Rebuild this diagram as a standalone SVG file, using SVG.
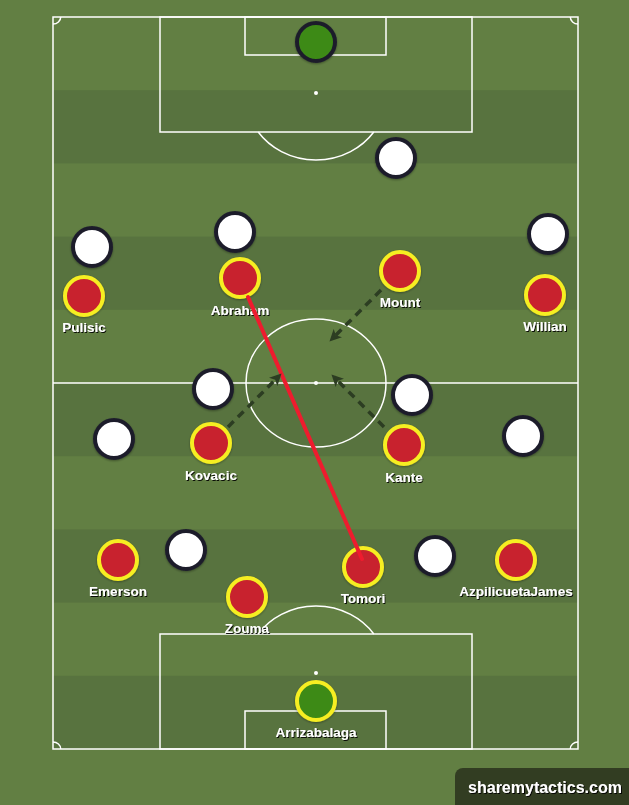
<svg xmlns="http://www.w3.org/2000/svg" width="629" height="805" viewBox="0 0 629 805">
<defs>
<filter id="ts" x="-10%" y="-30%" width="130%" height="170%">
<feDropShadow dx="1" dy="1" stdDeviation="0.4" flood-color="#000" flood-opacity="0.9"/>
</filter>
<filter id="cs" x="-30%" y="-30%" width="160%" height="160%">
<feDropShadow dx="0" dy="1" stdDeviation="1" flood-color="#000" flood-opacity="0.35"/>
</filter>
<marker id="ah" viewBox="0 0 10 10" refX="7" refY="5" markerWidth="3.4" markerHeight="3.4" orient="auto" markerUnits="strokeWidth">
<path d="M0,0 L10,5 L0,10 L2.5,5 z" fill="#2c3d22"/>
</marker>
</defs>
<style>
.ln{fill:none;stroke:#ffffff;stroke-width:1.5}
.red{fill:#c8232d;stroke:#f6ee22;stroke-width:4;filter:url(#cs)}
.wht{fill:#ffffff;stroke:#1d1d2b;stroke-width:4;filter:url(#cs)}
.gk1{fill:#3c8a16;stroke:#1d1d2b;stroke-width:4;filter:url(#cs)}
.gk2{fill:#3c8a16;stroke:#f6ee22;stroke-width:4;filter:url(#cs)}
.lbl{font-family:"Liberation Sans",Arial,sans-serif;font-weight:bold;font-size:13.5px;fill:#ffffff;text-anchor:middle;filter:url(#ts)}
.run{fill:none;stroke:#2c3d22;stroke-width:3.5;stroke-dasharray:8 6;marker-end:url(#ah)}
</style>
<rect x="0" y="0" width="629" height="805" fill="#627f43"/>
<g id="stripes" fill="#58733f">
<rect x="53" y="90.2" width="525" height="73.2"/>
<rect x="53" y="236.6" width="525" height="73.2"/>
<rect x="53" y="383" width="525" height="73.2"/>
<rect x="53" y="529.4" width="525" height="73.2"/>
<rect x="53" y="675.8" width="525" height="73.2"/>
</g>
<g id="pitch">
<rect class="ln" x="53" y="17" width="525" height="732"/>
<line class="ln" x1="53" y1="383" x2="578" y2="383"/>
<ellipse class="ln" cx="316" cy="383" rx="70" ry="64"/>
<circle cx="316" cy="383" r="2" fill="#fff"/>
<rect class="ln" x="160" y="17" width="312" height="115"/>
<rect class="ln" x="245" y="17" width="141" height="38"/>
<circle cx="316" cy="93" r="2" fill="#fff"/>
<path class="ln" d="M258.2,132 A70,64 0 0 0 373.8,132"/>
<rect class="ln" x="160" y="634" width="312" height="115"/>
<rect class="ln" x="245" y="711" width="141" height="38"/>
<circle cx="316" cy="673" r="2" fill="#fff"/>
<path class="ln" d="M258.2,634 A70,64 0 0 1 373.8,634"/>
<path class="ln" d="M53,24 A7.7,7 0 0 0 60.7,17"/>
<path class="ln" d="M570.3,17 A7.7,7 0 0 0 578,24"/>
<path class="ln" d="M53,742 A7.7,7 0 0 1 60.7,749"/>
<path class="ln" d="M570.3,749 A7.7,7 0 0 1 578,742"/>
</g>
<g id="opponents">
<g id="opp-gk"><circle class="gk1" cx="316" cy="42" r="19"/></g>
<g id="opp-1"><circle class="wht" cx="396" cy="158" r="19"/></g>
<g id="opp-2"><circle class="wht" cx="92" cy="247" r="19"/></g>
<g id="opp-3"><circle class="wht" cx="235" cy="232" r="19"/></g>
<g id="opp-4"><circle class="wht" cx="548" cy="234" r="19"/></g>
<g id="opp-5"><circle class="wht" cx="213" cy="389" r="19"/></g>
<g id="opp-6"><circle class="wht" cx="412" cy="395" r="19"/></g>
<g id="opp-7"><circle class="wht" cx="114" cy="439" r="19"/></g>
<g id="opp-8"><circle class="wht" cx="523" cy="436" r="19"/></g>
<g id="opp-9"><circle class="wht" cx="186" cy="550" r="19"/></g>
<g id="opp-10"><circle class="wht" cx="435" cy="556" r="19"/></g>
</g>
<g id="tomori"><circle class="red" cx="363" cy="567" r="19"/><text class="lbl" x="363" y="603">Tomori</text></g>
<g id="pulisic"><circle class="red" cx="84" cy="296" r="19"/><text class="lbl" x="84" y="332">Pulisic</text></g>
<g id="abraham"><circle class="red" cx="240" cy="278" r="19"/><text class="lbl" x="240" y="315">Abraham</text></g>
<g id="mount"><circle class="red" cx="400" cy="271" r="19"/><text class="lbl" x="400" y="307">Mount</text></g>
<g id="willian"><circle class="red" cx="545" cy="295" r="19"/><text class="lbl" x="545" y="331">Willian</text></g>
<g id="kovacic"><circle class="red" cx="211" cy="443" r="19"/><text class="lbl" x="211" y="480">Kovacic</text></g>
<g id="kante"><circle class="red" cx="404" cy="445" r="19"/><text class="lbl" x="404" y="482">Kante</text></g>
<g id="emerson"><circle class="red" cx="118" cy="560" r="19"/><text class="lbl" x="118" y="596">Emerson</text></g>
<g id="zouma"><circle class="red" cx="247" cy="597" r="19"/><text class="lbl" x="247" y="633">Zouma</text></g>
<g id="azpilicueta"><circle class="red" cx="516" cy="560" r="19"/><text class="lbl" x="516" y="596">AzpilicuetaJames</text></g>
<g id="arrizabalaga"><circle class="gk2" cx="316" cy="701" r="19"/><text class="lbl" x="316" y="737">Arrizabalaga</text></g>
<g id="connectors">
<line x1="248" y1="297" x2="362" y2="559" stroke="#ee1c2e" stroke-width="4" stroke-linecap="round"/>
<line class="run" x1="381" y1="290" x2="332" y2="339"/>
<line class="run" x1="228" y1="427" x2="279" y2="376"/>
<line class="run" x1="384" y1="427" x2="334" y2="377"/>
</g>
<g id="watermark">
<path d="M463,768 H629 V805 H455 V776 A8,8 0 0 1 463,768 z" fill="#323d22"/>
<text x="545" y="793" font-family="Liberation Sans,Arial,sans-serif" font-weight="bold" font-size="16" fill="#ffffff" text-anchor="middle" filter="url(#ts)">sharemytactics.com</text>
</g>
</svg>
